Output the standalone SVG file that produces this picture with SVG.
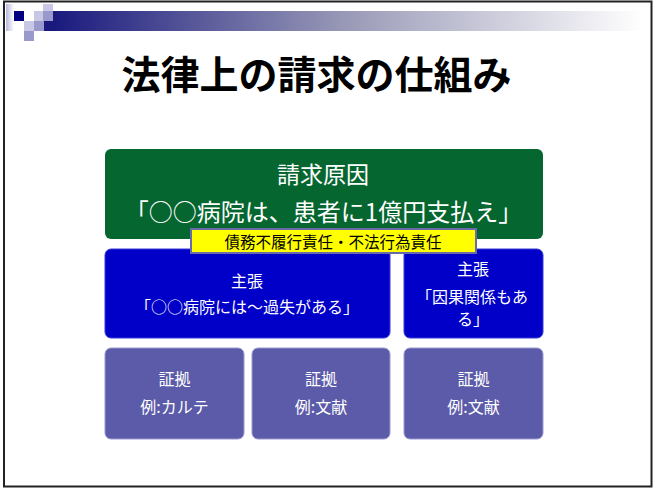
<svg xmlns="http://www.w3.org/2000/svg" width="653" height="488" viewBox="0 0 653 488">
<defs>
<linearGradient id="bar" x1="0" y1="0" x2="1" y2="0">
<stop offset="0" stop-color="#1a1a7e"/>
<stop offset="0.5" stop-color="#9a9ab8"/>
<stop offset="1" stop-color="#ffffff"/>
</linearGradient>
<linearGradient id="strip" x1="0" y1="0" x2="1" y2="0">
<stop offset="0" stop-color="#b8b8dc"/>
<stop offset="1" stop-color="#ffffff"/>
</linearGradient>
<style>
.t{font-family:"Noto Sans CJK JP","Noto Sans CJK SC",sans-serif;text-anchor:middle;fill:#ffffff}
.b{fill:#0000c8;stroke:#3a3ad8;stroke-width:1}
.p{fill:#5b5ba9;stroke:#9a9ad0;stroke-width:1}
</style>
</defs>
<rect x="0" y="0" width="653" height="488" fill="#ffffff"/>
<g id="header">
<rect x="6" y="4" width="8" height="27" fill="url(#strip)"/>
<rect x="53" y="11" width="590" height="20" fill="url(#bar)"/>
<rect x="44" y="21" width="10" height="10" fill="#1a1a7e"/>
<rect x="43" y="4" width="10" height="7" fill="#c8c8e6"/>
<rect x="14" y="11" width="10" height="10" fill="#000080"/>
<rect x="34" y="11" width="9" height="10" fill="#c8c8e6"/>
<rect x="43" y="11" width="10" height="10" fill="#9999cc"/>
<rect x="24" y="21" width="10" height="10" fill="#c8c8e6"/>
<rect x="34" y="21" width="10" height="10" fill="#9999cc"/>
<rect x="24" y="31" width="10" height="10" fill="#9999cc"/>
</g>
<rect x="4" y="1.5" width="647.5" height="485" fill="none" stroke="#222222" stroke-width="2"/>
<text x="316.5" y="89" font-family="'Noto Sans CJK JP','Noto Sans CJK SC',sans-serif" font-size="39" font-weight="bold" text-anchor="middle" fill="#000000">法律上の請求の仕組み</text>
<g id="cause">
<rect x="105" y="149" width="438" height="90" rx="6" fill="#066630"/>
<text class="t" x="323" y="183" font-size="23">請求原因</text>
<text class="t" x="323.5" y="221" font-size="24">「○○病院は、患者に1億円支払え」</text>
</g>
<g id="claim1">
<rect class="b" x="105" y="249" width="285" height="89" rx="6"/>
<text class="t" x="247" y="287" font-size="16">主張</text>
<text class="t" x="247" y="313" font-size="16">「○○病院には～過失がある」</text>
</g>
<g id="claim2">
<rect class="b" x="404" y="249" width="139" height="89" rx="6"/>
<text class="t" x="473" y="275" font-size="16">主張</text>
<text class="t" x="472" y="303" font-size="16">「因果関係もあ</text>
<text class="t" x="473" y="325" font-size="16">る」</text>
</g>
<g id="label">
<rect x="191" y="229" width="285" height="24" fill="#ffff00" stroke="#6a6aaa" stroke-width="2"/>
<text x="333" y="247.5" font-family="'Noto Sans CJK JP','Noto Sans CJK SC',sans-serif" font-size="15.5" text-anchor="middle" fill="#000000">債務不履行責任・不法行為責任</text>
</g>
<g id="evidence1">
<rect class="p" x="105" y="348" width="139" height="91" rx="6"/>
<text class="t" x="174.5" y="385" font-size="16">証拠</text>
<text class="t" x="174.5" y="413" font-size="16">例:カルテ</text>
</g>
<g id="evidence2">
<rect class="p" x="252" y="348" width="138" height="91" rx="6"/>
<text class="t" x="321" y="385" font-size="16">証拠</text>
<text class="t" x="321" y="413" font-size="16">例:文献</text>
</g>
<g id="evidence3">
<rect class="p" x="404" y="348" width="139" height="91" rx="6"/>
<text class="t" x="473.5" y="385" font-size="16">証拠</text>
<text class="t" x="473.5" y="413" font-size="16">例:文献</text>
</g>
<g id="connectors"></g>
</svg>
